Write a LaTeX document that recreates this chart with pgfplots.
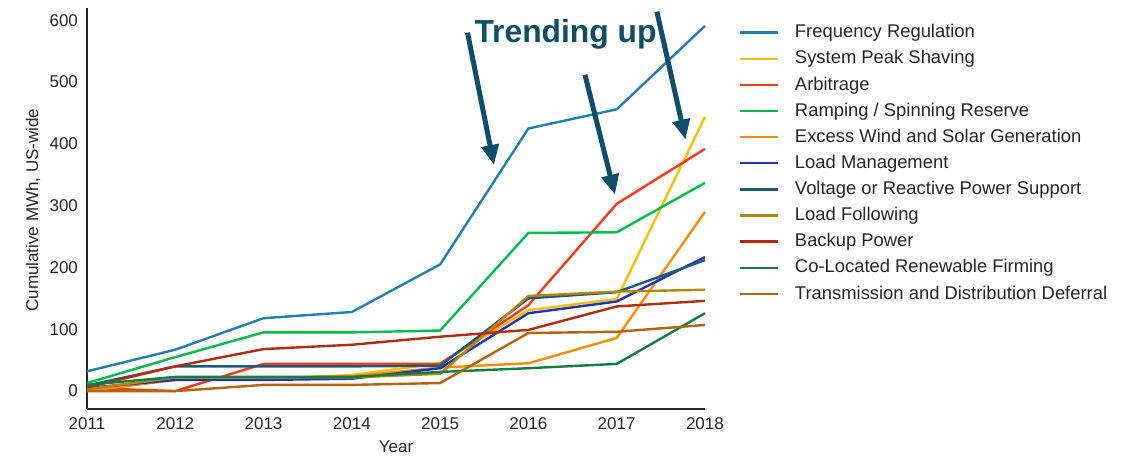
\documentclass[border=0pt]{standalone}
\usepackage{pgfplots}
\pgfplotsset{compat=1.18}
\usepackage{fontspec}
\setmainfont{Liberation Sans}
\usetikzlibrary{arrows.meta}
\definecolor{txt}{HTML}{262626}
\definecolor{cFreq}{HTML}{1F80B4}
\definecolor{cPeak}{HTML}{FFBE00}
\definecolor{cArb}{HTML}{FF3814}
\definecolor{cRamp}{HTML}{00C04A}
\definecolor{cExc}{HTML}{FF8C00}
\definecolor{cLM}{HTML}{1C34C0}
\definecolor{cVolt}{HTML}{1B5C7C}
\definecolor{cLF}{HTML}{B8860B}
\definecolor{cBack}{HTML}{B82A0A}
\definecolor{cCo}{HTML}{0E8040}
\definecolor{cTD}{HTML}{B8620E}
\definecolor{cArrow}{HTML}{0C4E6C}
\begin{document}
\begin{tikzpicture}
\begin{axis}[
  scale only axis,
  width=309pt, height=200.5pt,
  xmin=2011, xmax=2018, ymin=-29, ymax=620,
  xtick={2011,...,2018}, ytick={0,100,...,600},
  /pgf/number format/1000 sep={},
  /pgf/number format/assume math mode=true,
  axis x line*=bottom, axis y line*=left,
  axis line style={line width=0.8pt, color=txt},
  major tick length=0pt,
  tick label style={font=\fontsize{8.5}{10}\selectfont, text=txt},
  yticklabel style={xshift=-1pt},
  xticklabel style={yshift=-1pt},
  label style={font=\fontsize{8.5}{10}\selectfont, text=txt},
  xlabel={Year}, ylabel={Cumulative MWh, US-wide},
  xlabel style={at={(axis description cs:0.5,-0.095)}, anchor=center},
  ylabel style={at={(axis description cs:-0.0874,0.496)}, anchor=center},
  every axis plot/.append style={line width=1.2pt, mark=none},
  legend style={draw=none, fill=none, at={(1.044,0.98)}, anchor=north west,
    font=\fontsize{9.2}{11}\selectfont, text=txt, row sep=0.9pt,
    /tikz/every odd column/.append style={column sep=6pt}},
  legend cell align=left,
  legend image code/.code={\draw[#1] (0pt,0pt) -- (19pt,0pt);},
  clip=false,
]
\addplot[cFreq] coordinates {(2011,32) (2012,67) (2013,118) (2014,128) (2015,205) (2016,425) (2017,456) (2018,591)};
\addlegendentry{Frequency Regulation}
\addplot[cPeak] coordinates {(2011,3) (2012,22) (2013,20) (2014,26) (2015,45) (2016,131) (2017,149) (2018,444)};
\addlegendentry{System Peak Shaving}
\addplot[cArb] coordinates {(2011,5) (2012,0) (2013,44) (2014,44) (2015,44) (2016,139) (2017,303) (2018,392)};
\addlegendentry{Arbitrage}
\addplot[cRamp] coordinates {(2011,13) (2012,55) (2013,95) (2014,95) (2015,98) (2016,256) (2017,257) (2018,337)};
\addlegendentry{Ramping / Spinning Reserve}
\addplot[cExc] coordinates {(2011,0) (2012,18) (2013,20) (2014,24) (2015,38) (2016,45) (2017,86) (2018,290)};
\addlegendentry{Excess Wind and Solar Generation}
\addplot[cLM] coordinates {(2011,5) (2012,18) (2013,18) (2014,20) (2015,37) (2016,126) (2017,145) (2018,217)};
\addlegendentry{Load Management}
\addplot[cVolt] coordinates {(2011,9) (2012,40) (2013,40) (2014,40) (2015,41) (2016,150) (2017,160) (2018,212)};
\addlegendentry{Voltage or Reactive Power Support}
\addplot[cLF] coordinates {(2011,3) (2012,22) (2013,22) (2014,22) (2015,28) (2016,154) (2017,161) (2018,164)};
\addlegendentry{Load Following}
\addplot[cBack] coordinates {(2011,6) (2012,40) (2013,68) (2014,75) (2015,88) (2016,99) (2017,137) (2018,146)};
\addlegendentry{Backup Power}
\addplot[cCo] coordinates {(2011,10) (2012,23) (2013,23) (2014,23) (2015,31) (2016,37) (2017,44) (2018,126)};
\addlegendentry{Co-Located Renewable Firming}
\addplot[cTD] coordinates {(2011,0) (2012,0) (2013,10) (2014,10) (2015,13) (2016,94) (2017,96) (2018,107)};
\addlegendentry{Transmission and Distribution Deferral}
\draw[cArrow, line width=2.5pt, -{Triangle[width=8.5pt,length=10pt]}] (axis cs:2015.31,580) -- (axis cs:2015.61,366);
\draw[cArrow, line width=2.5pt, -{Triangle[width=8.5pt,length=10pt]}] (axis cs:2016.64,512) -- (axis cs:2016.98,318);
\draw[cArrow, line width=2.5pt, -{Triangle[width=8.5pt,length=10pt]}] (axis cs:2017.455,614) -- (axis cs:2017.78,407);
\node[font=\fontsize{15.9}{18}\selectfont\bfseries, text=cArrow, anchor=center] at (axis cs:2016.42,578) {Trending up};
\end{axis}
\path[use as bounding box] (-43.5pt,-23pt) rectangle (524pt,204.5pt);
\end{tikzpicture}
\end{document}
